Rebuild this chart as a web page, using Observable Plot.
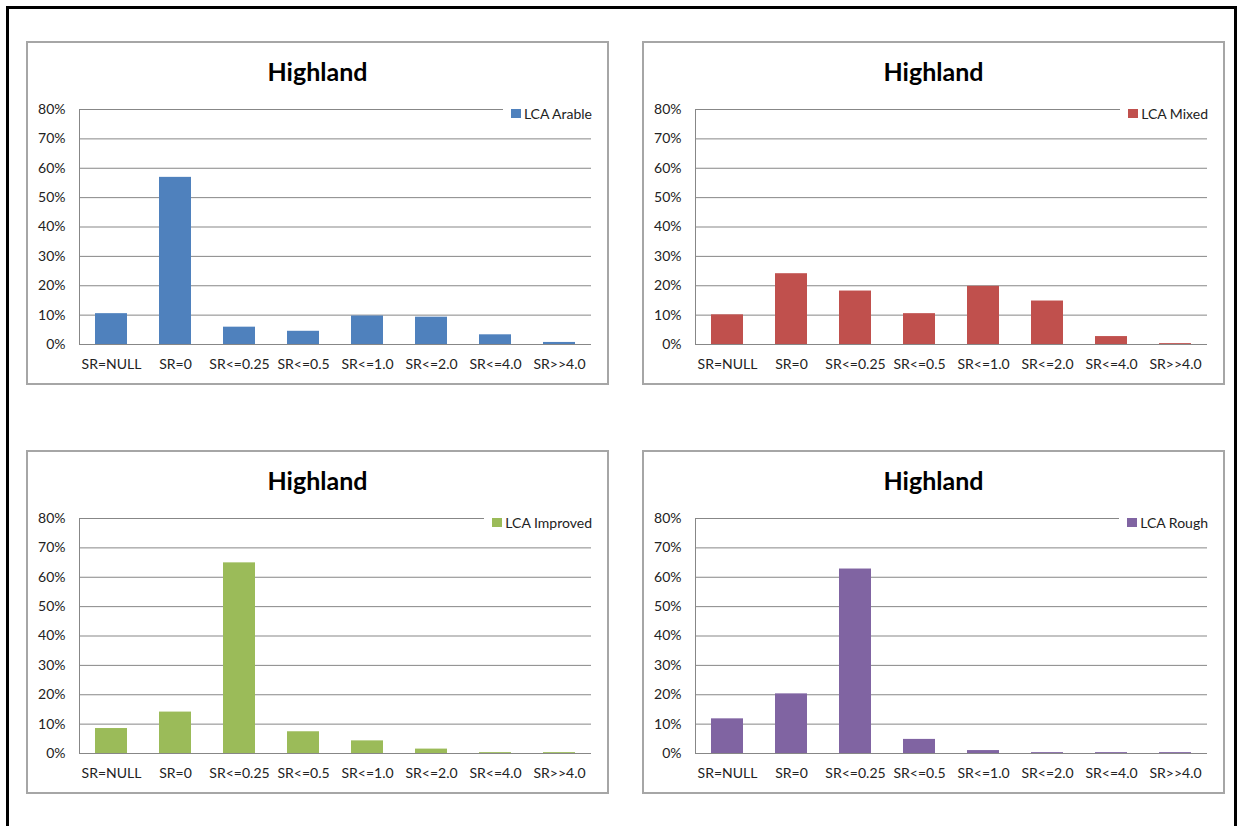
<!DOCTYPE html>
<html>
<head>
<meta charset="utf-8">
<script src="https://cdn.jsdelivr.net/npm/d3@7"></script>
<script src="https://cdn.jsdelivr.net/npm/@observablehq/plot@0.6"></script>
<style>
  html, body { margin: 0; padding: 0; background: #fff; overflow: hidden; }
  #page { position: relative; width: 1240px; height: 826px; overflow: hidden; font-family: Lato, "Open Sans", sans-serif; }
  #outer { position: absolute; left: 6px; top: 6px; width: 1231px; height: 840px; box-sizing: border-box; border: 3px solid #000; }
  .panel { position: absolute; width: 583px; height: 344px; box-shadow: inset 0 0 0 2px #a6a6a6; background: transparent; }
  .panel svg { position: absolute; left: 0; top: 0; }
  .title { position: absolute; left: 0; width: 583px; top: 15px; text-align: center; font-weight: bold; font-size: 25px; color: #000; font-family: Lato, sans-serif; }
  .legend { position: absolute; right: 17px; top: 61px; background: #fff; padding-left: 8px; display: flex; align-items: center; height: 22px; font-size: 14px; color: #222; }
  .legend .sw { width: 10px; height: 9px; margin-right: 3px; }
</style>
</head>
<body>
<div id="page"><div id="outer"></div></div>
<script>
const categories = ["SR=NULL", "SR=0", "SR<=0.25", "SR<=0.5", "SR<=1.0", "SR<=2.0", "SR<=4.0", "SR>>4.0"];
const arable   = [10.5, 56.9, 5.9, 4.5, 9.7, 9.3, 3.3, 0.7];
const mixed    = [10.1, 24.1, 18.2, 10.5, 19.8, 14.8, 2.7, 0.3];
const improved = [8.5, 14.1, 64.9, 7.4, 4.3, 1.5, 0.3, 0.3];
const rough    = [11.8, 20.3, 62.8, 4.8, 1.0, 0.3, 0.3, 0.3];
const yTicks = [0, 10, 20, 30, 40, 50, 60, 70, 80];

const panels = [
  {title: "Highland", series: "LCA Arable",   values: arable,   color: "#4F81BD", left: 26,  top: 41},
  {title: "Highland", series: "LCA Mixed",    values: mixed,    color: "#C0504D", left: 642, top: 41},
  {title: "Highland", series: "LCA Improved", values: improved, color: "#9BBB59", left: 26,  top: 450},
  {title: "Highland", series: "LCA Rough",    values: rough,    color: "#8064A2", left: 642, top: 450}
];

const page = document.getElementById("page");
for (const p of panels) {
  const div = document.createElement("div");
  div.className = "panel";
  div.style.left = p.left + "px";
  div.style.top = p.top + "px";
  page.appendChild(div);

  const data = categories.map((c, i) => ({cat: c, value: p.values[i]}));

  const chart = Plot.plot({
    width: 583,
    height: 344,
    marginLeft: 53,
    marginRight: 18,
    marginTop: 68,
    marginBottom: 41,
    style: {fontFamily: "Lato, 'Open Sans', sans-serif", fontSize: "14px", color: "#222", background: "transparent"},
    x: {domain: categories, paddingInner: 0.5, paddingOuter: 0.25, label: null},
    y: {domain: [0, 80], ticks: yTicks, label: null},
    marks: [
      Plot.gridY(yTicks, {stroke: "#878787", strokeOpacity: 1}),
      (index, scales, values, dims) => {
        const line = d3.create("svg:line")
          .attr("x1", dims.marginLeft + 0.5).attr("x2", dims.marginLeft + 0.5)
          .attr("y1", dims.marginTop).attr("y2", dims.height - dims.marginBottom)
          .attr("stroke", "#878787");
        return line.node();
      },
      Plot.barY(data, {x: "cat", y: "value", fill: p.color}),
      Plot.axisY(yTicks, {tickSize: 0, tickPadding: 14, tickFormat: d => d + "%", fontSize: 14}),
      Plot.axisX({tickSize: 0, tickPadding: 15, fontSize: 14})
    ]
  });
  div.appendChild(chart);

  const t = document.createElement("div");
  t.className = "title";
  t.textContent = p.title;
  div.appendChild(t);

  const lg = document.createElement("div");
  lg.className = "legend";
  const sw = document.createElement("span");
  sw.className = "sw";
  sw.style.background = p.color;
  const lt = document.createElement("span");
  lt.textContent = p.series;
  lg.appendChild(sw);
  lg.appendChild(lt);
  div.appendChild(lg);
}
</script>
</body>
</html>
